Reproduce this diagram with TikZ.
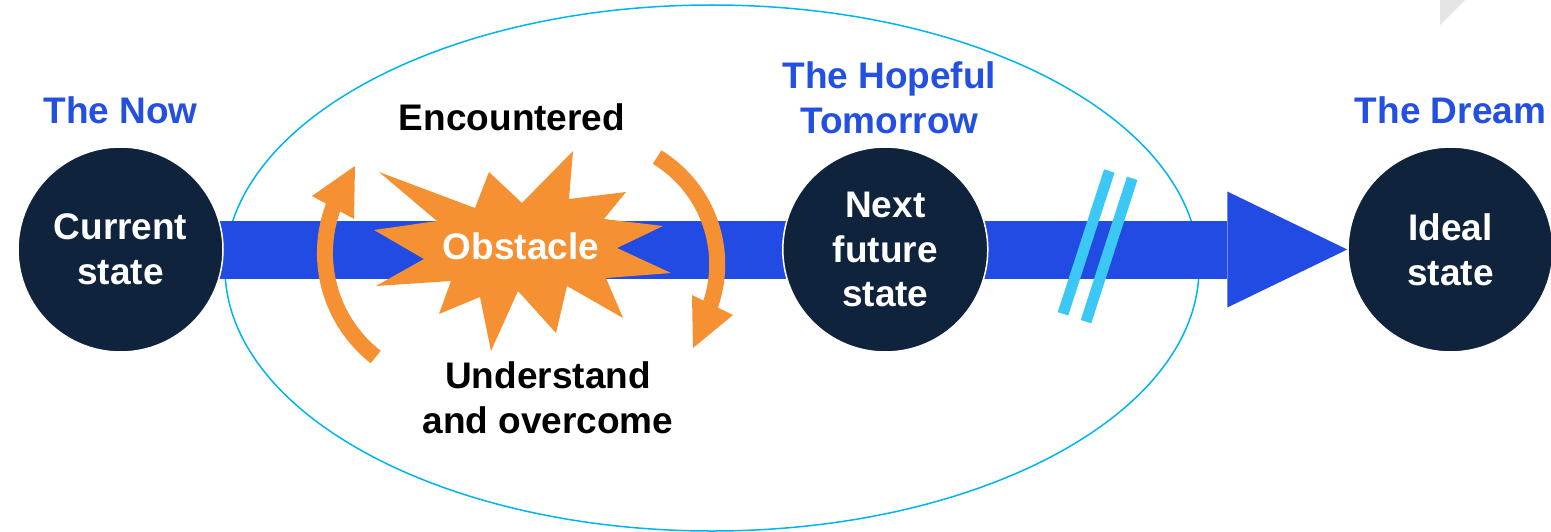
\documentclass[tikz,border=0pt]{standalone}
\usepackage{fontspec}
\setmainfont{Liberation Sans}
\usepackage{xcolor}
\usetikzlibrary{arrows.meta}
\usetikzlibrary{positioning}
\usetikzlibrary{backgrounds}
\definecolor{navy}{RGB}{15,35,60}
\definecolor{flowblue}{RGB}{33,75,226}
\definecolor{tagblue}{RGB}{35,80,225}
\definecolor{obstorange}{RGB}{245,145,50}
\definecolor{cutblue}{RGB}{60,200,245}
\definecolor{ringblue}{RGB}{0,180,240}

\begin{document}
\begin{tikzpicture}[x=1pt, y=-1pt, font=\fontsize{37}{44.7}\selectfont\bfseries,
		state/.style={circle, fill=navy, draw=white, line width=1.5pt, minimum size=205pt, inner sep=0pt, text=white, align=center},
		phase/.style={text=tagblue, align=center, inner sep=0pt},
		note/.style={text=black, align=center, inner sep=0pt},
		flow/.style={draw=flowblue, line width=58pt, -{Triangle[length=120pt, width=116pt, line width=0pt]}},
		turn/.style={draw=obstorange, line width=16pt},
		cut/.style={draw=cutblue, line width=11pt}]
				\useasboundingbox (0,0) rectangle (1551,532);
				\fill[black!10] (1440,0) -- (1465,0) -- (1440,25) -- cycle;
				
				% Draw the three states
				\node[state] (now) at (120.5,249.5) {Current\\state};
				\node[state] (next) at (885.3,249.5) {Next\\future\\state};
				\node[state] (ideal) at (1450.5,249.5) {Ideal\\state};
				
				% Draw the phase labels
				\node[phase, above=22pt of now] (nowtag) {The Now};
				\node[phase, above=12pt of next, xshift=4pt] (nexttag) {The Hopeful\\Tomorrow};
				\node[phase, above=22pt of ideal] (idealtag) {The Dream};
				
				% Draw the ring and the main arrow behind the states
				\begin{scope}[on background layer]
					\draw[ringblue, line width=1.5pt] (712,268) ellipse[x radius=487, y radius=263];
					\draw[flow] (now.center) -- (ideal.west);
				\end{scope}
				
				% Draw the obstacle
				\fill[obstorange] plot coordinates {(379,172) (437,221) (374,230) (424,259) (376,286) (451,281)
					(439,314) (480,297) (491,351) (518,291) (556,333) (567,286) (623,318) (606,278) (671,273)
					(617,248) (663,226) (604,219) (626,192) (569,199) (573,151) (522,203) (489,172) (475,208)} -- cycle;
				\node[text=white] (obs) at (521,246) {Obstacle};
				
				% Draw the two turning arrows
				\draw[turn] (375.7,357.0) arc[start angle=-128, end angle=-202, radius=132pt];
				\fill[obstorange] (355,166) -- (312,196) -- (354,219) -- cycle;
				\draw[turn] (657.1,157.1) arc[start angle=58.6, end angle=-21, radius=125.5pt];
				\fill[obstorange] (693,348) -- (692,295) -- (733,315) -- cycle;
				
				\node[note] (enc) at (512,117) {Encountered};
				\node[note] (over) at (548,397.5) {Understand\\and overcome};
				
				% Draw the break marks
				\draw[cut] (1109.3,171) -- (1063,313.8);
				\draw[cut] (1132.2,178.3) -- (1086,321.7);
			\end{tikzpicture}
\end{document}
